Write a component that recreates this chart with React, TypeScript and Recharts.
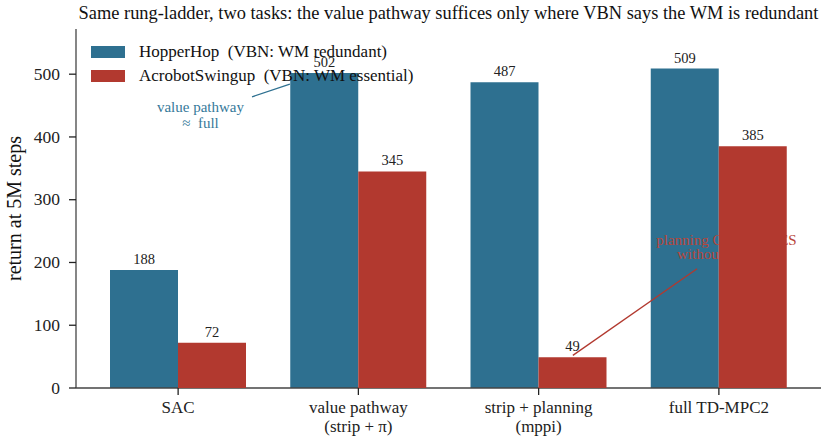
import { BarChart, Bar, XAxis, YAxis, LabelList, Legend, ReferenceLine, ReferenceDot } from 'recharts';

const CATEGORIES = ['SAC', 'value pathway\n(strip + π)', 'strip + planning\n(mppi)', 'full TD-MPC2'];
const HOPPER = [188, 502, 487, 509];
const ACROBOT = [72, 345, 49, 385];
const Y_TICKS = [0, 100, 200, 300, 400, 500];
const Y_MAX = 572;

const SERIES = [
  { key: 'hopper', label: 'HopperHop  (VBN: WM redundant)', color: '#2e7090' },
  { key: 'acrobot', label: 'AcrobotSwingup  (VBN: WM essential)', color: '#b2392f' },
];

const data = CATEGORIES.map((name, i) => ({ name, idx: i, hopper: HOPPER[i], acrobot: ACROBOT[i] }));

const FONT = '"Liberation Serif", "Times New Roman", serif';
const W = 824;
const H = 442;
const MARGIN = { top: 29, right: 3, left: 0, bottom: 0 };
const Y_W = 76;
const X_H = 54;
const PAD = 12;
const BAR = 68;

// numeric twin of the category axis, used to place annotations between bars
const plotW = W - MARGIN.left - MARGIN.right - Y_W;
const band = (plotW - 2 * PAD) / CATEGORIES.length;
const NUM_DOMAIN = [-0.5 - PAD / band, CATEGORIES.length - 0.5 + PAD / band];

const CategoryTick = ({ x, y, payload }: any) => {
  const lines = String(payload.value).split('\n');
  return (
    <text x={x} y={y} textAnchor="middle" fontFamily={FONT} fontSize={17} fill="#222">
      {lines.map((l, i) => (
        <tspan key={i} x={x} dy={i === 0 ? 16 : 19}>{l}</tspan>
      ))}
    </text>
  );
};

const ValueTick = ({ x, y, payload }: any) => (
  <text x={x} y={y} dy="0.33em" textAnchor="end" fontFamily={FONT} fontSize={17.5} fill="#222">
    {payload.value}
  </text>
);

const YTitle = ({ viewBox }: any) => (
  <text
    x={viewBox.x + 14}
    y={viewBox.y + viewBox.height / 2}
    transform={`rotate(-90, ${viewBox.x + 14}, ${viewBox.y + viewBox.height / 2})`}
    textAnchor="middle"
    dominantBaseline="central"
    fontFamily={FONT}
    fontSize={20}
    fill="#111"
  >
    return at 5M steps
  </text>
);

const note = (lines: string[], color: string, lh: number) => (p: any) => (
  <text x={p.cx} y={p.cy} textAnchor="middle" fontFamily={FONT} fontSize={15} fill={color}>
    {lines.map((l, i) => (
      <tspan key={i} x={p.cx} dy={i === 0 ? 5 - ((lines.length - 1) * lh) / 2 : lh}>{l}</tspan>
    ))}
  </text>
);

const LegendBox = () => (
  <div style={{ fontFamily: FONT, fontSize: 17, color: '#111' }}>
    {SERIES.map((s) => (
      <div key={s.key} style={{ display: 'flex', alignItems: 'center', height: 24 }}>
        <span style={{ width: 34, height: 12, background: s.color, marginRight: 14, display: 'inline-block' }} />
        <span style={{ whiteSpace: 'pre' }}>{s.label}</span>
      </div>
    ))}
  </div>
);

const axes = (visible: boolean) => [
  <XAxis
    key="x"
    dataKey="name"
    height={X_H}
    padding={{ left: PAD, right: PAD }}
    interval={0}
    axisLine={visible ? { stroke: '#444', strokeWidth: 1.3 } : false}
    tickLine={visible ? { stroke: '#222', strokeWidth: 1.3 } : false}
    tickSize={7}
    tick={visible ? <CategoryTick /> : false}
  />,
  <YAxis
    key="y"
    width={Y_W}
    domain={[0, Y_MAX]}
    ticks={Y_TICKS}
    interval={0}
    axisLine={visible ? { stroke: '#444', strokeWidth: 1.3 } : false}
    tickLine={visible ? { stroke: '#222', strokeWidth: 1.3 } : false}
    tickSize={7}
    tickMargin={9}
    tick={visible ? <ValueTick /> : false}
    label={visible ? <YTitle /> : undefined}
  />,
];

export default function App() {
  return (
    <div style={{ position: 'absolute', left: 0, top: 0, width: W, height: H, background: '#fff' }}>
      <div
        style={{
          position: 'absolute', left: Y_W, width: plotW, top: 3, textAlign: 'center',
          fontFamily: FONT, fontSize: 18.4, lineHeight: '20px', color: '#111', whiteSpace: 'nowrap',
        }}
      >
        Same rung-ladder, two tasks: the value pathway suffices only where VBN says the WM is redundant
      </div>

      {/* bottom layer: axes, HopperHop bars and the annotations */}
      <div style={{ position: 'absolute', left: 0, top: 0 }}>
        <BarChart width={W} height={H} data={data} margin={MARGIN} barSize={BAR} barGap={0}>
          {axes(true)}
          <XAxis
            xAxisId="num"
            dataKey="idx"
            type="number"
            scale="linear"
            domain={NUM_DOMAIN}
            allowDataOverflow
            hide
          />
          <Bar dataKey="hopper" fill={SERIES[0].color} isAnimationActive={false} />
          <Bar dataKey="acrobot" fill="transparent" isAnimationActive={false} />
          <ReferenceLine
            xAxisId="num"
            segment={[{ x: 0.41, y: 464 }, { x: 0.62, y: 484 }]}
            stroke="#2e7090"
            strokeWidth={1.3}
          />
          <ReferenceDot xAxisId="num" x={0.124} y={435} r={0} shape={note(['value pathway', '≈\u00a0 full'], '#36799a', 16)} />
          <ReferenceDot xAxisId="num" x={3.042} y={225} r={0} shape={note(['planning COLLAPSES', 'without the WM'], '#b8463b', 14)} />
          <ReferenceLine
            xAxisId="num"
            segment={[{ x: 2.879, y: 190 }, { x: 2.19, y: 52 }]}
            stroke="#b2392f"
            strokeWidth={1.3}
          />
        </BarChart>
      </div>

      {/* top layer: AcrobotSwingup bars, value labels and legend */}
      <div style={{ position: 'absolute', left: 0, top: 0 }}>
        <BarChart width={W} height={H} data={data} margin={MARGIN} barSize={BAR} barGap={0}>
          {axes(false)}
          <Bar dataKey="hopper" fill="transparent" isAnimationActive={false}>
            <LabelList dataKey="hopper" position="top" offset={6} style={{ fontFamily: FONT, fontSize: 14.5, fill: '#222' }} />
          </Bar>
          <Bar dataKey="acrobot" fill={SERIES[1].color} isAnimationActive={false}>
            <LabelList dataKey="acrobot" position="top" offset={6} style={{ fontFamily: FONT, fontSize: 14.5, fill: '#222' }} />
          </Bar>
          <Legend
            layout="vertical"
            align="center"
            verticalAlign="middle"
            content={<LegendBox />}
            wrapperStyle={{ left: 91, top: 40, width: 'auto' }}
          />
        </BarChart>
      </div>
    </div>
  );
}
